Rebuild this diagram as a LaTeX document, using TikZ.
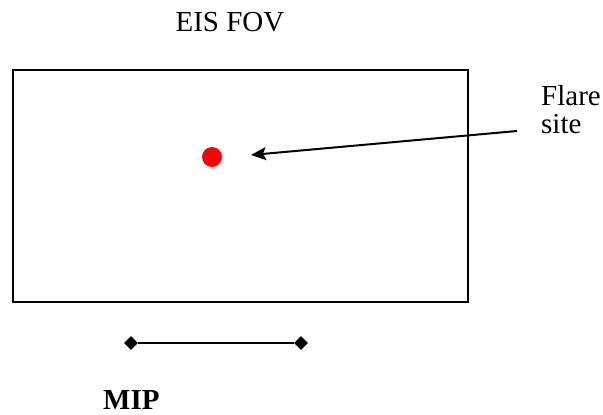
\documentclass[tikz,border=0pt]{standalone}
\usepackage{fontspec}
\setmainfont{LiberationSerif}[Extension=.ttf, UprightFont=*-Regular, BoldFont=*-Bold, ItalicFont=*-Italic, BoldItalicFont=*-BoldItalic]
\usetikzlibrary{arrows.meta,shapes.geometric}
\begin{document}
\begin{tikzpicture}[x=1pt,y=-1pt,
  lbl/.style={font=\fontsize{29}{29}\selectfont, inner sep=0pt},
  boldlbl/.style={font=\fontsize{29}{29}\selectfont\bfseries, inner sep=0pt},
  endmark/.style={diamond, fill=black, minimum size=14pt, inner sep=0pt},
  thick line/.style={line width=2pt}]
\useasboundingbox (0,0) rectangle (603,415);
\node[draw, thick line, minimum width=455pt, minimum height=232pt, anchor=north west, inner sep=0pt] (fov) at (12,69) {};
\node[lbl, anchor=base] (fovlbl) at (230,31) {EIS FOV};
\node[circle, fill=red, minimum size=20pt, inner sep=0pt] (dot) at (212,157) {};
\node[lbl, anchor=base west] (flare) at (541,105) {Flare};
\node[lbl, anchor=base west] (site) at (541,133) {site};
\coordinate (astart) at (517,131);
\coordinate (atip) at (251,155);
\draw[thick line, -{Stealth[length=15pt,width=13pt,inset=3pt]}] (astart) -- (atip);
\node[endmark] (m1) at (131,343) {};
\node[endmark] (m2) at (301,343) {};
\draw[thick line] (m1) -- (m2);
\node[boldlbl, anchor=base west] (mip) at (103,409) {MIP};
\end{tikzpicture}
\end{document}
